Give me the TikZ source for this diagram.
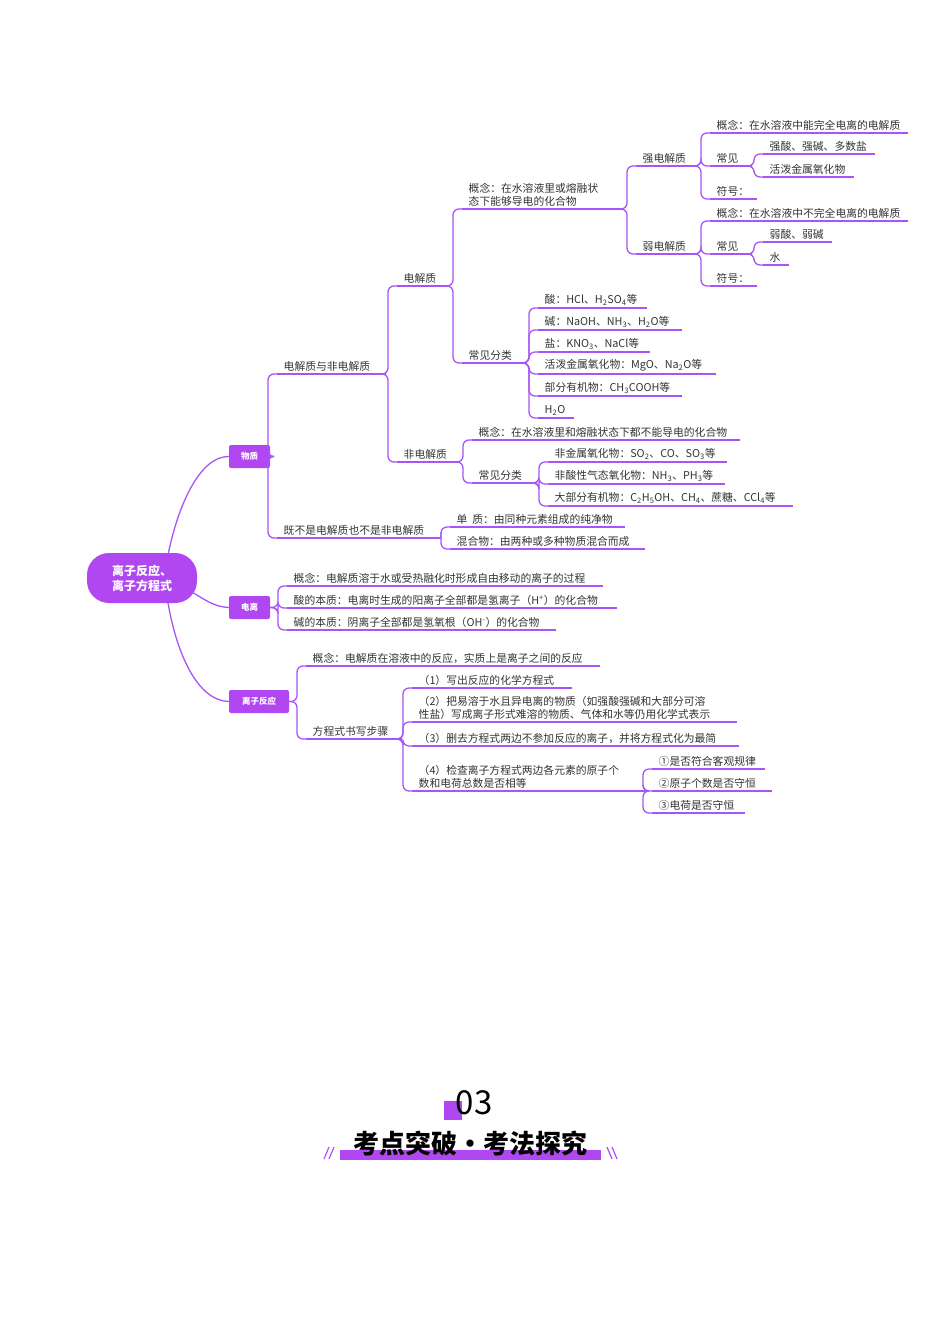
\documentclass[tikz,border=0pt]{standalone}
\usepackage{fontspec}
\setmainfont{Noto Sans CJK SC}
\usetikzlibrary{calc}
\definecolor{br}{HTML}{A855F7}
\definecolor{bx}{HTML}{B047F0}
\definecolor{tx}{HTML}{333333}
\tikzset{
  brl/.style={draw=br,line width=1.3pt},
  lbl/.style={anchor=south west,inner sep=1.5pt,text=tx,font=\fontsize{10.8}{13}\selectfont,align=left},
  box/.style={fill=bx,text=white,font=\bfseries\fontsize{8.5}{10}\selectfont,rounded corners=2pt,inner sep=0pt}
}
% #1 name, #2 x start, #3 y, #4 x end, #5 text
\newcommand{\leaf}[5]{%
  \coordinate (#1s) at (#2,#3); \coordinate (#1e) at (#4,#3);
  \draw[brl] (#1s)--(#1e);
  \node[lbl] (#1) at (#2+5,#3-1) {#5};}
\newcommand{\conn}[2]{\draw[brl,rounded corners=6pt] (#1e) -| ([xshift=-9pt]#2s) -- (#2s);}
\begin{document}
\begin{tikzpicture}[x=1pt,y=-1pt]
\useasboundingbox (0,0) rectangle (950,1344);
% root and boxes
\node[fill=bx,text=white,rounded corners=22pt,minimum width=110pt,minimum height=50pt,font=\bfseries\fontsize{12}{15}\selectfont,align=left] (root) at (142,578) {离子反应、\\离子方程式};
\node[box,minimum width=41pt,minimum height=23pt] (wz) at (249.5,456.5) {物质};
\node[box,minimum width=41pt,minimum height=23pt] (dl) at (249.5,607.5) {电离};
\node[box,minimum width=60pt,minimum height=23pt] (fy) at (259,701.5) {离子反应};
\coordinate (wze) at (wz.east); \coordinate (dle) at (dl.east); \coordinate (fye) at (fy.east);
\draw[brl] (168,555) .. controls (178,505) and (200,456) .. (wz.west);
\draw[brl] (192,592) .. controls (205,600) and (215,607) .. (dl.west);
\draw[brl] (168,603) .. controls (178,660) and (200,701) .. (fy.west);
% 物质 branch
\leaf{a}{277}{374}{386}{电解质与非电解质}
\leaf{b}{277}{538}{441}{既不是电解质也不是非电解质}
\conn{wz}{a}\conn{wz}{b}
\leaf{b1}{450}{527}{625}{单\ \ 质：由同种元素组成的纯净物}
\leaf{b2}{450}{549}{645}{混合物：由两种或多种物质混合而成}
\conn{b}{b1}\conn{b}{b2}
\leaf{c}{397}{286}{450}{电解质}
\leaf{n}{397}{462}{460}{非电解质}
\conn{a}{c}\conn{a}{n}
\leaf{c1}{462}{209}{623}{概念：在水溶液里或熔融状\\态下能够导电的化合物}
\leaf{c2}{462}{363}{526}{常见分类}
\conn{c}{c1}\conn{c}{c2}
\leaf{s}{636}{166}{698}{强电解质}
\leaf{w}{636}{254}{698}{弱电解质}
\conn{c1}{s}\conn{c1}{w}
\leaf{s1}{710}{133}{908}{概念：在水溶液中能完全电离的电解质}
\leaf{s2}{710}{166}{752}{常见}
\leaf{s3}{710}{199}{757}{符号：}
\conn{s}{s1}\conn{s}{s2}\conn{s}{s3}
\leaf{s21}{763}{154}{875}{强酸、强碱、多数盐}
\leaf{s22}{763}{177}{854}{活泼金属氧化物}
\conn{s2}{s21}\conn{s2}{s22}
\leaf{w1}{710}{221}{908}{概念：在水溶液中不完全电离的电解质}
\leaf{w2}{710}{254}{752}{常见}
\leaf{w3}{710}{286}{757}{符号：}
\conn{w}{w1}\conn{w}{w2}\conn{w}{w3}
\leaf{w21}{763}{242}{832}{弱酸、弱碱}
\leaf{w22}{763}{265}{789}{水}
\conn{w2}{w21}\conn{w2}{w22}
\leaf{k1}{538}{308}{647}{酸：HCl、H\textsubscript{2}SO\textsubscript{4}等}
\leaf{k2}{538}{330}{682}{碱：NaOH、NH\textsubscript{3}、H\textsubscript{2}O等}
\leaf{k3}{538}{352}{650}{盐：KNO\textsubscript{3}、NaCl等}
\leaf{k4}{538}{374}{716}{活泼金属氧化物：MgO、Na\textsubscript{2}O等}
\leaf{k5}{538}{396}{682}{部分有机物：CH\textsubscript{3}COOH等}
\leaf{k6}{538}{418}{574}{H\textsubscript{2}O}
\conn{c2}{k1}\conn{c2}{k2}\conn{c2}{k3}\conn{c2}{k4}\conn{c2}{k5}\conn{c2}{k6}
\leaf{n1}{472}{440}{740}{概念：在水溶液里和熔融状态下都不能导电的化合物}
\leaf{n2}{472}{483}{537}{常见分类}
\conn{n}{n1}\conn{n}{n2}
\leaf{m1}{548}{462}{727}{非金属氧化物：SO\textsubscript{2}、CO、SO\textsubscript{3}等}
\leaf{m2}{548}{484}{725}{非酸性气态氧化物：NH\textsubscript{3}、PH\textsubscript{3}等}
\leaf{m3}{548}{506}{793}{大部分有机物：C\textsubscript{2}H\textsubscript{5}OH、CH\textsubscript{4}、蔗糖、CCl\textsubscript{4}等}
\conn{n2}{m1}\conn{n2}{m2}\conn{n2}{m3}
% 电离 branch
\leaf{d1}{287}{586}{603}{概念：电解质溶于水或受热融化时形成自由移动的离子的过程}
\leaf{d2}{287}{608}{617}{酸的本质：电离时生成的阳离子全部都是氢离子（H\textsuperscript{+}）的化合物}
\leaf{d3}{287}{630}{556}{碱的本质：阴离子全部都是氢氧根（OH\textsuperscript{-}）的化合物}
\conn{dl}{d1}\conn{dl}{d2}\conn{dl}{d3}
% 离子反应 branch
\leaf{f1}{306}{666}{600}{概念：电解质在溶液中的反应，实质上是离子之间的反应}
\leaf{f2}{306}{739}{402}{方程式书写步骤}
\conn{fy}{f1}\conn{fy}{f2}
\leaf{g1}{412}{688}{572}{（1）写出反应的化学方程式}
\leaf{g2}{412}{722}{737}{（2）把易溶于水且异电离的物质（如强酸强碱和大部分可溶\\性盐）写成离子形式难溶的物质、气体和水等仍用化学式表示}
\leaf{g3}{412}{746}{739}{（3）删去方程式两边不参加反应的离子，并将方程式化为最简}
\leaf{g4}{412}{791}{647}{（4）检查离子方程式两边各元素的原子个\\数和电荷总数是否相等}
\conn{f2}{g1}\conn{f2}{g2}\conn{f2}{g3}\conn{f2}{g4}
\leaf{h1}{652}{769}{765}{①是否符合客观规律}
\leaf{h2}{652}{791}{772}{②原子个数是否守恒}
\leaf{h3}{652}{813}{745}{③电荷是否守恒}
\conn{g4}{h1}\conn{g4}{h2}\conn{g4}{h3}
% header
\fill[bx] (444,1101) rectangle (462,1120);
\node[font=\fontsize{33}{35}\selectfont,text=black,inner sep=0pt] (num) at (474,1103) {03};
\fill[bx] (340,1150) rectangle (601,1160);
\node[font=\bfseries\fontsize{26}{30}\selectfont,text=black,inner sep=0pt] (ttl) at (470,1143) {考点突破•考法探究};
\draw[br,line width=1.2pt] (324,1159)--(329,1147) (329,1159)--(334,1147);
\draw[br,line width=1.2pt] (607,1147)--(612,1159) (612,1147)--(617,1159);
\end{tikzpicture}
\end{document}
